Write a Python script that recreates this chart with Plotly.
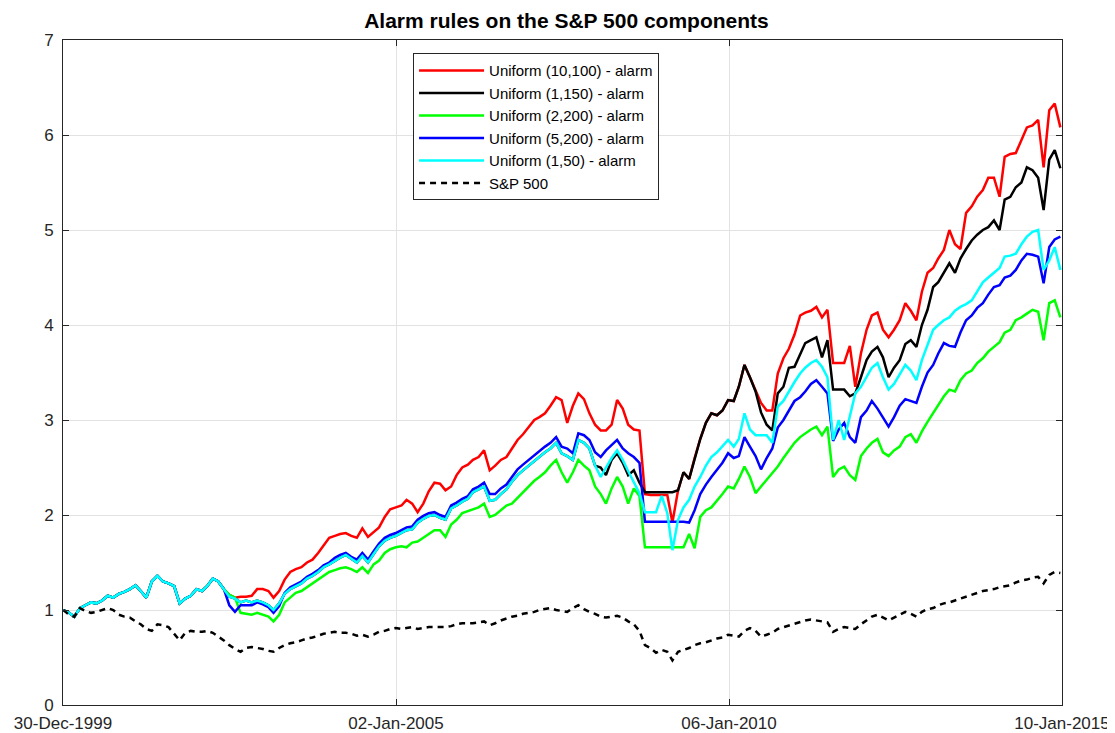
import pandas as pd
import plotly.graph_objects as go

# ---------------- data (monthly, month 0 = Jan 2000) ----------------
# common path of all alarm rules before they diverge (m0..m31)
common = [1.00, 0.97, 0.93, 1.02, 1.05, 1.08, 1.07, 1.10, 1.15, 1.13,
          1.17, 1.19, 1.22, 1.26, 1.20, 1.13, 1.30, 1.36, 1.30, 1.28,
          1.25, 1.07, 1.12, 1.15, 1.22, 1.20, 1.25, 1.33, 1.30, 1.22,
          1.16, 1.13]

# Uniform (5,200) from m30
blue_tail = [1.05, 0.98, 1.05, 1.05, 1.05, 1.08, 1.06, 1.03, 0.97, 1.04,
             1.18, 1.24, 1.27, 1.30, 1.35, 1.38, 1.42, 1.47, 1.50, 1.55,
             1.58, 1.60, 1.56, 1.53, 1.60, 1.53, 1.62, 1.70, 1.76, 1.79,
             1.81, 1.84, 1.87, 1.88, 1.95, 1.99, 2.02, 2.03, 2.00, 1.98,
             2.10, 2.13, 2.17, 2.20, 2.27, 2.30, 2.34, 2.22, 2.22, 2.28,
             2.32, 2.40, 2.48, 2.53, 2.58, 2.63, 2.68, 2.72, 2.76, 2.82,
             2.72, 2.70, 2.65, 2.86, 2.84, 2.79, 2.66, 2.61, 2.68, 2.74,
             2.79, 2.70, 2.65, 2.61, 2.55, 1.93, 1.93, 1.93, 1.93, 1.93,
             1.93, 1.93, 1.93, 1.92, 2.05, 2.22, 2.32, 2.40, 2.48, 2.55,
             2.65, 2.60, 2.62, 2.82, 2.72, 2.62, 2.48, 2.60, 2.70, 2.92,
             3.00, 3.10, 3.20, 3.24, 3.30, 3.38, 3.42, 3.35, 3.28, 2.78,
             2.90, 2.97, 2.82, 2.76, 3.03, 3.10, 3.20, 3.12, 3.02, 2.93,
             3.03, 3.15, 3.22, 3.20, 3.18, 3.35, 3.50, 3.58, 3.70, 3.81,
             3.78, 3.77, 3.92, 4.05, 4.10, 4.18, 4.23, 4.32, 4.40, 4.42,
             4.50, 4.52, 4.58, 4.68, 4.75, 4.74, 4.72, 4.44, 4.82, 4.90,
             4.93]

# Uniform (1,50) from m30
cyan_tail = [1.14, 1.12, 1.08, 1.10, 1.08, 1.10, 1.08, 1.05, 1.00, 1.07,
             1.17, 1.22, 1.25, 1.28, 1.33, 1.36, 1.40, 1.45, 1.48, 1.52,
             1.55, 1.58, 1.54, 1.50, 1.57, 1.50, 1.59, 1.67, 1.73, 1.76,
             1.78, 1.81, 1.84, 1.85, 1.92, 1.96, 1.99, 2.00, 1.97, 1.95,
             2.07, 2.10, 2.14, 2.17, 2.24, 2.27, 2.30, 2.15, 2.16, 2.22,
             2.27, 2.35, 2.42, 2.47, 2.52, 2.57, 2.62, 2.66, 2.70, 2.76,
             2.65, 2.62, 2.58, 2.79, 2.76, 2.70, 2.52, 2.40, 2.50, 2.60,
             2.68, 2.58, 2.46, 2.35, 2.23, 2.03, 2.03, 2.03, 2.20, 2.02,
             1.63, 1.95, 2.08, 2.16, 2.30, 2.40, 2.52, 2.61, 2.66, 2.72,
             2.79, 2.72, 2.80, 3.07, 2.90, 2.84, 2.84, 2.84, 2.76, 3.14,
             3.20, 3.30, 3.40, 3.49, 3.55, 3.60, 3.63, 3.56, 3.45, 2.79,
             3.00, 2.79, 3.05, 3.28, 3.35, 3.45, 3.55, 3.60, 3.45, 3.32,
             3.38, 3.48, 3.58, 3.52, 3.42, 3.63, 3.80, 3.95, 4.00, 4.05,
             4.08, 4.15, 4.19, 4.22, 4.26, 4.35, 4.45, 4.50, 4.55, 4.60,
             4.72, 4.73, 4.75, 4.85, 4.93, 4.98, 5.00, 4.58, 4.68, 4.82,
             4.58]

# Uniform (2,200) from m32
green_tail = [0.97, 0.96, 0.95, 0.97, 0.95, 0.93, 0.88, 0.95,
              1.08, 1.13, 1.18, 1.20, 1.24, 1.28, 1.32, 1.36, 1.40, 1.42,
              1.44, 1.45, 1.43, 1.40, 1.45, 1.39, 1.48, 1.52, 1.60, 1.64,
              1.66, 1.67, 1.66, 1.71, 1.72, 1.76, 1.80, 1.84, 1.84, 1.77,
              1.90, 1.95, 2.02, 2.04, 2.06, 2.08, 2.12, 1.98, 2.00, 2.05,
              2.10, 2.12, 2.18, 2.24, 2.30, 2.36, 2.40, 2.45, 2.52, 2.58,
              2.45, 2.34, 2.45, 2.58, 2.52, 2.47, 2.30, 2.22, 2.12, 2.28,
              2.40, 2.30, 2.12, 2.28, 2.20, 1.66, 1.66, 1.66, 1.66, 1.66,
              1.66, 1.66, 1.66, 1.80, 1.65, 1.98, 2.05, 2.08, 2.15, 2.22,
              2.30, 2.28, 2.38, 2.51, 2.40, 2.23, 2.30, 2.37, 2.44, 2.51,
              2.60, 2.68, 2.76, 2.82, 2.86, 2.90, 2.93, 2.84, 2.93, 2.40,
              2.48, 2.51, 2.42, 2.37, 2.62, 2.70, 2.76, 2.80, 2.66, 2.62,
              2.68, 2.72, 2.82, 2.85, 2.76, 2.88, 2.98, 3.07, 3.15, 3.25,
              3.32, 3.30, 3.42, 3.49, 3.52, 3.60, 3.65, 3.72, 3.77, 3.82,
              3.92, 3.95, 4.05, 4.08, 4.12, 4.16, 4.14, 3.84, 4.23, 4.26,
              4.08]

# Uniform (1,150) from m97 (before that it runs under the other rules)
black_tail = [2.50, 2.42, 2.58,
              2.65, 2.55, 2.42, 2.47, 2.34, 2.24, 2.24, 2.24, 2.24, 2.24,
              2.24, 2.26, 2.45, 2.38, 2.60, 2.80, 2.97, 3.07, 3.05, 3.10,
              3.21, 3.20, 3.35, 3.58, 3.45, 3.30, 3.08, 2.95, 2.89, 3.28,
              3.35, 3.55, 3.56, 3.70, 3.81, 3.84, 3.87, 3.66, 3.84, 3.32,
              3.32, 3.32, 3.25, 3.28, 3.45, 3.63, 3.72, 3.77, 3.66, 3.45,
              3.55, 3.63, 3.80, 3.84, 3.77, 4.00, 4.16, 4.40, 4.45, 4.55,
              4.65, 4.55, 4.70, 4.80, 4.89, 4.95, 5.00, 5.03, 5.10, 5.00,
              5.32, 5.35, 5.45, 5.50, 5.66, 5.63, 5.55, 5.21, 5.74, 5.84,
              5.65]

# Uniform (10,100): m32..m110, then m125..m180 (between, it runs under (1,150))
red_mid = [1.14, 1.14, 1.15, 1.22, 1.22, 1.20, 1.13, 1.20,
           1.32, 1.40, 1.43, 1.45, 1.50, 1.53, 1.60, 1.68, 1.76, 1.78,
           1.80, 1.81, 1.78, 1.76, 1.86, 1.77, 1.82, 1.87, 1.98, 2.06,
           2.08, 2.10, 2.16, 2.12, 2.03, 2.12, 2.25, 2.34, 2.33, 2.26,
           2.30, 2.42, 2.50, 2.53, 2.58, 2.61, 2.68, 2.47, 2.52, 2.58,
           2.61, 2.70, 2.79, 2.85, 2.92, 3.00, 3.03, 3.07, 3.15, 3.24,
           3.21, 2.97, 3.15, 3.28, 3.22, 3.07, 2.95, 2.89, 2.89, 2.95,
           3.21, 3.12, 2.95, 2.90, 2.89, 2.22, 2.21, 2.21, 2.21, 2.21,
           1.92]
red_tail = [3.32, 3.18, 3.10, 3.10, 3.49,
            3.65, 3.75, 3.90, 4.10, 4.13, 4.15, 4.19, 4.08, 4.16, 3.60,
            3.60, 3.60, 3.78, 3.35, 3.70, 3.95, 4.10, 4.13, 3.95, 3.87,
            3.95, 4.05, 4.23, 4.15, 4.05, 4.35, 4.55, 4.60, 4.70, 4.79,
            5.00, 4.85, 4.80, 5.18, 5.25, 5.35, 5.42, 5.55, 5.55, 5.35,
            5.77, 5.80, 5.81, 5.95, 6.08, 6.10, 6.16, 5.66, 6.26, 6.33,
            6.08]

# S&P 500 (normalised)
sp500 = [1.00, 0.95, 0.93, 1.02, 0.99, 0.97, 0.98, 1.00, 1.02, 1.00,
         0.95, 0.93, 0.92, 0.88, 0.85, 0.80, 0.78, 0.85, 0.84, 0.82,
         0.75, 0.68, 0.76, 0.78, 0.77, 0.77, 0.78, 0.76, 0.72, 0.68,
         0.63, 0.59, 0.56, 0.60, 0.61, 0.60, 0.59, 0.57, 0.56, 0.60,
         0.63, 0.65, 0.66, 0.68, 0.70, 0.71, 0.73, 0.75, 0.76, 0.77,
         0.76, 0.76, 0.75, 0.73, 0.74, 0.72, 0.74, 0.77, 0.78, 0.80,
         0.81, 0.80, 0.81, 0.82, 0.80, 0.81, 0.82, 0.82, 0.82, 0.82,
         0.83, 0.85, 0.86, 0.86, 0.86, 0.87, 0.88, 0.84, 0.86, 0.89,
         0.91, 0.93, 0.94, 0.96, 0.97, 0.98, 1.00, 1.01, 1.02, 1.00,
         0.99, 0.98, 1.02, 1.05, 1.01, 0.98, 0.96, 0.93, 0.92, 0.93,
         0.94, 0.92, 0.88, 0.85, 0.78, 0.63, 0.60, 0.55, 0.58, 0.56,
         0.47, 0.56, 0.58, 0.60, 0.63, 0.65, 0.66, 0.68, 0.70, 0.71,
         0.74, 0.73, 0.72, 0.78, 0.81, 0.78, 0.72, 0.74, 0.76, 0.80,
         0.82, 0.84, 0.86, 0.88, 0.89, 0.90, 0.89, 0.88, 0.87, 0.77,
         0.80, 0.82, 0.81, 0.80, 0.85, 0.89, 0.93, 0.95, 0.92, 0.89,
         0.92, 0.95, 0.98, 0.96, 0.93, 0.98, 1.01, 1.02, 1.05, 1.07,
         1.08, 1.10, 1.12, 1.14, 1.16, 1.18, 1.20, 1.21, 1.22, 1.24,
         1.25, 1.26, 1.29, 1.31, 1.32, 1.34, 1.35, 1.28, 1.37, 1.40,
         1.39]

names = ["Uniform (10,100) - alarm", "Uniform (1,150) - alarm",
         "Uniform (2,200) - alarm", "Uniform (5,200) - alarm",
         "Uniform (1,50) - alarm", "S&P 500"]
tick_dates = ["1999-12-30", "2005-01-02", "2010-01-06", "2015-01-10"]
tick_text = ["30-Dec-1999", "02-Jan-2005", "06-Jan-2010", "10-Jan-2015"]

# ---------------- assemble series ----------------
blue = common[:30] + blue_tail
cyan = common[:30] + cyan_tail
green = common[:32] + green_tail
black = cyan[:97] + black_tail
red = common[:32] + red_mid + black[len(common[:32]) + len(red_mid):125] + red_tail


def dates(n):
    return pd.date_range("2000-01-01", periods=n, freq="MS")


series = [
    (red, names[0], "#ff0000", "solid"),
    (black, names[1], "#000000", "solid"),
    (green, names[2], "#00ff00", "solid"),
    (blue, names[3], "#0000ff", "solid"),
    (cyan, names[4], "#00ffff", "solid"),
    (sp500, names[5], "#000000", "6px,5px"),
]

fig = go.Figure()
for y, name, color, dash in series:
    fig.add_trace(go.Scatter(x=dates(len(y)), y=y, name=name, mode="lines",
                             line=dict(color=color, width=2.5, dash=dash)))

FONT = "Liberation Sans, Arial, sans-serif"
axis_common = dict(showline=True, linecolor="#262626", linewidth=1,
                   mirror="ticks", ticks="inside", ticklen=6,
                   tickcolor="#262626", showgrid=True, gridcolor="#e2e2e2",
                   gridwidth=1, zeroline=False, automargin=False,
                   tickfont=dict(family=FONT, size=17, color="#262626"))

# the page body adds an ~8px offset, so the figure is sized to compensate
fig.update_layout(
    width=1107, height=725,
    margin=dict(l=55, r=53, t=32, b=28, autoexpand=False),
    paper_bgcolor="white", plot_bgcolor="white",
    title=dict(text="<b>Alarm rules on the S&P 500 components</b>",
               x=0.5045, xanchor="center", yref="container",
               y=0.983, yanchor="middle",
               font=dict(family=FONT, size=21, color="#000000")),
    xaxis=dict(type="date", range=[tick_dates[0], tick_dates[-1]],
               tickmode="array", tickvals=tick_dates, ticktext=tick_text,
               ticklabelstandoff=3, **axis_common),
    yaxis=dict(range=[0, 7], tickmode="linear", tick0=0, dtick=1,
               ticklabelstandoff=5, **axis_common),
    legend=dict(x=0.3504, y=0.980, xanchor="left", yanchor="top",
                bgcolor="white", bordercolor="#262626", borderwidth=1,
                font=dict(family=FONT, size=15, color="#000000"),
                itemwidth=65, tracegroupgap=0),
    showlegend=True,
)

fig.write_html("out.html")
